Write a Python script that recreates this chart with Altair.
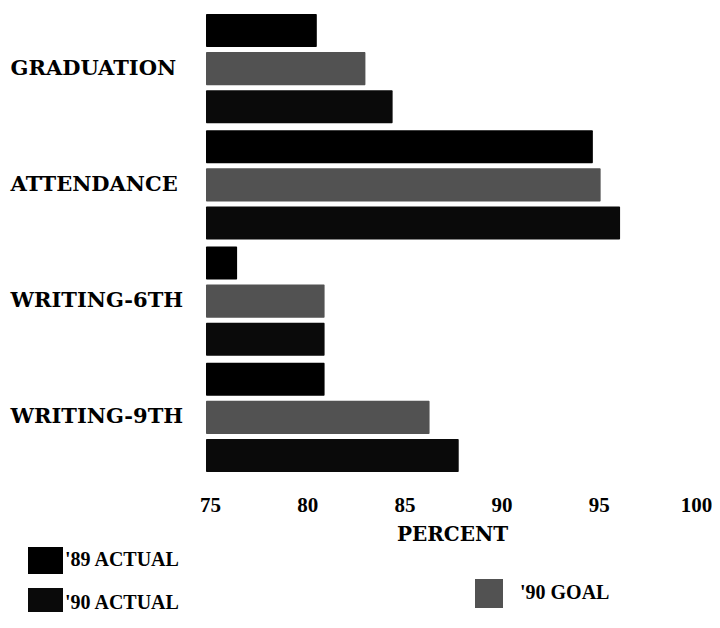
import altair as alt
import pandas as pd

categories = ["GRADUATION", "ATTENDANCE", "WRITING-6TH", "WRITING-9TH"]
series = ["'89 ACTUAL", "'90 GOAL", "'90 ACTUAL"]
actual_89 = [80.7, 94.9, 76.6, 81.1]
goal_90 = [83.2, 95.3, 81.1, 86.5]
actual_90 = [84.6, 96.3, 81.1, 88.0]
tick_values = [75, 80, 85, 90, 95, 100]
series_colors = ["#000000", "#525252", "#0a0a0a"]

rows = []
for i, c in enumerate(categories):
    for s, vals in zip(series, [actual_89, goal_90, actual_90]):
        rows.append({"category": c, "series": s, "value": vals[i]})
df = pd.DataFrame(rows)

FONT = "DejaVu Serif"
FONT2 = "Liberation Serif"
FW = "bold"

bars = alt.Chart(df).mark_bar(cornerRadius=1).encode(
    y=alt.Y(
        "category:N",
        sort=categories,
        scale=alt.Scale(paddingInner=0.06, paddingOuter=0),
        axis=alt.Axis(
            title=None, domain=False, ticks=False, tickSize=0,
            labelAlign="left", labelBaseline="middle", labelPadding=196,
            labelFont=FONT, labelFontSize=21, labelFontWeight=FW,
            labelColor="black", labelLimit=0,
        ),
    ),
    yOffset=alt.YOffset(
        "series:N", sort=series,
        scale=alt.Scale(paddingInner=0.13, paddingOuter=0),
    ),
    x=alt.X(
        "value:Q",
        scale=alt.Scale(domain=[75, 100], zero=False, nice=False),
        axis=alt.Axis(
            values=tick_values, title="PERCENT", grid=False, domain=False,
            ticks=False, tickSize=0, labelFlush=False, labelOverlap=False,
            labelPadding=33, labelBaseline="middle", labelOffset=4,
            labelFont=FONT2, labelFontSize=21, labelFontWeight=FW,
            labelColor="black",
            titleFont=FONT, titleFontSize=20, titleFontWeight=FW,
            titleColor="black", titleX=246, titleY=62,
            titleAlign="center", titleBaseline="middle",
        ),
    ),
    x2=alt.datum(75),
    color=alt.Color(
        "series:N",
        scale=alt.Scale(domain=series, range=series_colors),
        legend=None,
    ),
)

legend_labels = ["'89 ACTUAL", "'90 ACTUAL", "'90 GOAL"]
legend_colors = ["#000000", "#0a0a0a", "#525252"]
legend_pos = [
    (-178, -143, 533, 560, -141, 546),
    (-178, -143, 574, 598, -141, 589),
    (269, 297, 565, 594, 314, 579),
]

layers = [bars]
for lab, col, (x1, x2, y1, y2, tx, ty) in zip(legend_labels, legend_colors, legend_pos):
    d = pd.DataFrame({"label": [lab]})
    layers.append(
        alt.Chart(d).mark_rect(color=col).encode(
            x=alt.value(x1), x2=alt.value(x2), y=alt.value(y1), y2=alt.value(y2)
        )
    )
    layers.append(
        alt.Chart(d).mark_text(
            align="left", baseline="middle", font=FONT2, fontSize=20,
            fontWeight=FW, color="black",
        ).encode(x=alt.value(tx), y=alt.value(ty), text="label:N")
    )

chart = alt.layer(*layers).properties(
    width=486,
    height=458,
    padding={"left": 198, "top": 6, "right": 20, "bottom": 148},
    autosize="none",
    background="white",
).configure_view(stroke=None)

chart.save("out.html", embed_options={"renderer": "svg", "actions": False})
